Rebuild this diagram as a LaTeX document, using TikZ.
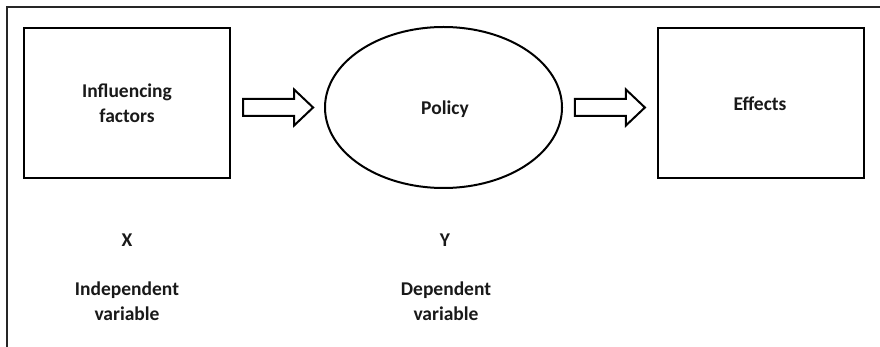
\documentclass[tikz,border=0pt]{standalone}
\usepackage{fontspec}
\setmainfont{Carlito}
\usetikzlibrary{calc,shapes.geometric}
\begin{document}
\begin{tikzpicture}[x=1pt,y=-1pt,
  every node/.style={font=\bfseries\fontsize{19.5}{25}\selectfont, align=center, text=black!90},
  boxnode/.style={draw, line width=2.2pt, minimum width=206pt, minimum height=150pt, inner sep=0pt},
  ovalnode/.style={draw, ellipse, line width=2pt, minimum width=237pt, minimum height=161pt, inner sep=0pt},
  blockarrow/.pic={\draw[line width=2pt, line join=miter]
      (0,-8.5) -- (51,-8.5) -- (51,-18) -- (70,0) -- (51,18) -- (51,8.5) -- (0,8.5) -- cycle;}
]
\useasboundingbox (0,0) rectangle (880,347);
\fill[white] (0,0) rectangle (880,347);
% frame
\draw[line width=2.2pt, color=black!85] (7,347) -- (7,7) -- (880,7);

% main elements
\node[boxnode] (inf) at (127,103) {};
\node (inftxt) at (127,103.5) {Influencing\\factors};
\node[ovalnode] (pol) at (443.5,107.5) {};
\node (poltxt) at (445,109) {Policy};
\node[boxnode] (eff) at (761,103) {};
\node (efftxt) at (760,104) {Effects};

% block arrows between the elements
\pic at ($(inf.east |- pol.center)+(12,0)$) {blockarrow};
\pic at ($(eff.west |- pol.center)+(-82,0)$) {blockarrow};

% variable labels
\node (x) at (127,240) {X};
\node (xl) at (127,301) {Independent\\variable};
\node (y) at (445,240) {Y};
\node (yl) at (446,301) {Dependent\\variable};
\end{tikzpicture}
\end{document}
